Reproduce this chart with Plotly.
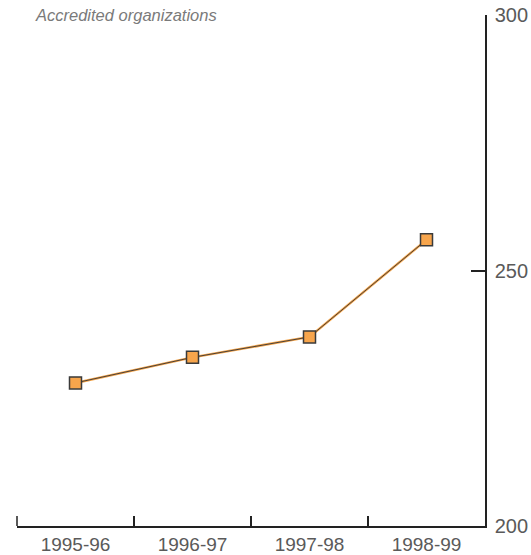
import plotly.graph_objects as go

# Accredited organizations by year
years = ["1995-96", "1996-97", "1997-98", "1998-99"]
accredited = [228, 233, 237, 256]
y_ticks = [200, 250, 300]

fig = go.Figure()

# orange underlay of the connecting line
fig.add_trace(go.Scatter(
    x=years, y=accredited, mode="lines",
    line=dict(color="#f5a54a", width=2.5),
    hoverinfo="skip", showlegend=False,
))
# dark line with square markers on top
fig.add_trace(go.Scatter(
    x=years, y=accredited, mode="lines+markers",
    line=dict(color="#4a4038", width=1),
    marker=dict(symbol="square", size=12, color="#f7a54c",
                line=dict(color="#3a3a3a", width=1.5)),
    showlegend=False,
))

fig.update_layout(
    width=531, height=555,
    margin=dict(l=17, r=46, t=15, b=29),
    paper_bgcolor="white", plot_bgcolor="white",
    font=dict(family="Liberation Sans, Arial, sans-serif", color="#555555"),
    xaxis=dict(
        type="category", range=[-0.5, 3.5], automargin=False,
        showline=True, linecolor="#222222", linewidth=1.5,
        ticks="inside", tickson="boundaries", ticklen=10,
        tickcolor="#222222", tickwidth=1.5,
        showgrid=False, zeroline=False,
        tickfont=dict(size=19, color="#5a5a5a"),
    ),
    yaxis=dict(
        side="right", range=[200, 300], tickvals=y_ticks, automargin=False,
        showline=True, linecolor="#222222", linewidth=1.5,
        ticks="inside", ticklen=14, tickcolor="#222222", tickwidth=1.5,
        showgrid=False, zeroline=False,
        tickfont=dict(size=20, color="#5a5a5a"),
        ticklabelstandoff=4,
    ),
    # end tick at the left edge of the category axis
    shapes=[dict(
        type="line", xref="paper", yref="paper",
        x0=0, x1=0, y0=0, y1=10 / 511,
        line=dict(color="#222222", width=1.5),
    )],
    annotations=[dict(
        text="<i>Accredited organizations</i>",
        xref="paper", yref="paper", x=(33 - 17) / 468, y=1.0,
        xanchor="left", yanchor="middle", showarrow=False,
        font=dict(size=16.5, color="#7a7a7a"),
    )],
)

fig.write_html("out.html")
